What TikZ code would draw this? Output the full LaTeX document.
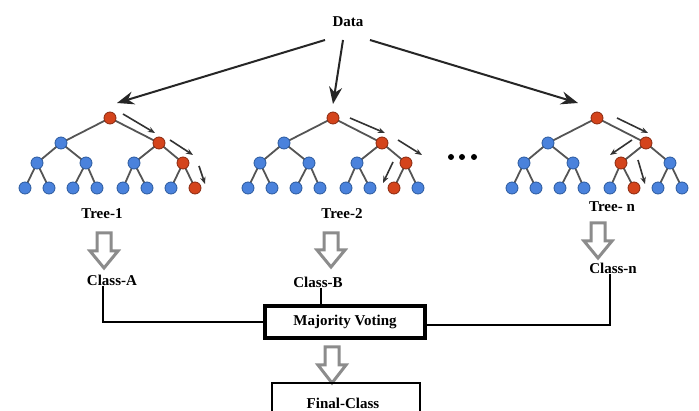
\documentclass[tikz,border=0pt]{standalone}
\usepackage{fontspec}
\setmainfont{Liberation Serif}
\usetikzlibrary{arrows.meta,calc}
\pgfdeclarelayer{bg}
\pgfdeclarelayer{paper}
\pgfsetlayers{paper,bg,main}
\definecolor{nblue}{HTML}{4A82DC}
\definecolor{nbluedk}{HTML}{2C5A9E}
\definecolor{nred}{HTML}{D4441C}
\definecolor{nreddk}{HTML}{8A2A10}
\definecolor{edgec}{HTML}{555555}
\definecolor{hollow}{HTML}{8C8C8C}
\tikzset{
  bn/.style={circle,fill=nblue,draw=nbluedk,line width=0.8pt,minimum size=12pt,inner sep=0pt},
  rn/.style={circle,fill=nred,draw=nreddk,line width=0.8pt,minimum size=12pt,inner sep=0pt},
  tedge/.style={draw=edgec,line width=1.8pt},
  smallarr/.style={draw=black!80,line width=1.6pt,-{Stealth[length=7pt,width=5.5pt]}},
  bigarr/.style={draw=black!85,line width=2pt,-{Stealth[length=17pt,width=13pt]}},
  lbl/.style={font=\fontsize{15}{17}\selectfont\bfseries,inner sep=1pt},
  conn/.style={draw=black,line width=2pt},
}
% #1 prefix, #2 root x, #3 red L1, #4 red L2, #5 red leaf
\newcommand{\mytree}[5]{%
  \node[rn] (#1-0) at (#2,118) {};
  \foreach \i/\dx in {1/-49,2/49}{%
    \ifnum\i=#3\relax\def\st{rn}\else\def\st{bn}\fi
    \node[\st] (#1-1-\i) at (#2+\dx,143) {};
    \begin{pgfonlayer}{bg}\draw[tedge] (#1-0.center) -- (#1-1-\i.center);\end{pgfonlayer}
  }
  \foreach \j/\dx in {1/-73,2/-24,3/24,4/73}{%
    \ifnum\j=#4\relax\def\st{rn}\else\def\st{bn}\fi
    \pgfmathtruncatemacro{\p}{(\j+1)/2}
    \node[\st] (#1-2-\j) at (#2+\dx,163) {};
    \begin{pgfonlayer}{bg}\draw[tedge] (#1-1-\p.center) -- (#1-2-\j.center);\end{pgfonlayer}
  }
  \foreach \k/\dx in {1/-85,2/-61,3/-37,4/-13,5/13,6/37,7/61,8/85}{%
    \ifnum\k=#5\relax\def\st{rn}\else\def\st{bn}\fi
    \pgfmathtruncatemacro{\q}{(\k+1)/2}
    \node[\st] (#1-3-\k) at (#2+\dx,188) {};
    \begin{pgfonlayer}{bg}\draw[tedge] (#1-2-\q.center) -- (#1-3-\k.center);\end{pgfonlayer}
  }
}
% hollow arrow: #1 x, #2 top y, #3 head start y, #4 tip y
\newcommand{\hollowarrow}[4]{%
  \draw[hollow,line width=3pt,fill=white,line join=miter]
    (#1-7,#2) -- (#1+7,#2) -- (#1+7,#3) -- (#1+14,#3) -- (#1,#4) -- (#1-14,#3) -- (#1-7,#3) -- cycle;
}
\begin{document}
\begin{tikzpicture}[x=1pt,y=-1pt]
\useasboundingbox (0,0) rectangle (699,411);
\begin{pgfonlayer}{paper}\fill[white] (0,0) rectangle (699,411);\end{pgfonlayer}

% Data
\node[lbl] (data) at (348,22) {Data};
\coordinate (d1) at (325,40); \coordinate (e1) at (117,103);
\coordinate (d2) at (343,40); \coordinate (e2) at (333,104);
\coordinate (d3) at (370,40); \coordinate (e3) at (578,103);
\draw[bigarr] (d1) -- (e1);
\draw[bigarr] (d2) -- (e2);
\draw[bigarr] (d3) -- (e3);

% Trees
\mytree{ta}{110}{2}{4}{8}
\mytree{tb}{333}{2}{4}{7}
\mytree{tn}{597}{2}{3}{6}

% small path arrows
\coordinate (a1s) at (123,114); \coordinate (a1e) at (155,133);
\coordinate (a2s) at (170,140); \coordinate (a2e) at (193,155);
\coordinate (a3s) at (199,166); \coordinate (a3e) at (205,184);
\coordinate (b1s) at (350,118); \coordinate (b1e) at (385,133);
\coordinate (b2s) at (398,140); \coordinate (b2e) at (422,155);
\coordinate (b3s) at (393,162); \coordinate (b3e) at (383,183);
\coordinate (n1s) at (617,118); \coordinate (n1e) at (648,133);
\coordinate (n2s) at (632,140); \coordinate (n2e) at (610,155);
\coordinate (n3s) at (638,160); \coordinate (n3e) at (645,184);
\foreach \s/\e in {a1s/a1e,a2s/a2e,a3s/a3e,b1s/b1e,b2s/b2e,b3s/b3e,n1s/n1e,n2s/n2e,n3s/n3e}
  \draw[smallarr] (\s) -- (\e);

% dots
\foreach \x [count=\c] in {451,462,474}
  \node[circle,fill=black,inner sep=0pt,minimum size=6pt] (dot\c) at (\x,157) {};

% Tree labels
\node[lbl] (tl1) at (102,214) {Tree-1};
\node[lbl] (tl2) at (342,214) {Tree-2};
\node[lbl] (tln) at (612,207) {Tree- n};

% hollow arrows
\hollowarrow{104}{233}{251}{268}
\hollowarrow{331}{233}{250}{267}
\hollowarrow{598}{223}{241}{258}
\hollowarrow{332}{347}{365}{383}

% Class labels
\node[lbl] (ca) at (112,280) {Class-A};
\node[lbl] (cb) at (318,282) {Class-B};
\node[lbl] (cn) at (613,268) {Class-n};

% Majority voting
\node[lbl,draw=black,line width=3.5pt,minimum width=160pt,minimum height=32pt,inner sep=0pt] (mv) at (345,322) {Majority Voting};
% Final class (bottom cut off)
\node[draw=black,line width=2pt,minimum width=148pt,minimum height=50pt,inner sep=0pt] (fc) at (346,408) {};
\node[lbl] (fct) at (343,403) {Final-Class};

% connectors
\draw[conn] ([xshift=-9pt]ca.south) |- (mv.west);
\draw[conn] ([xshift=3pt]cb.south) -- ([xshift=3pt]cb.south |- mv.north);
\draw[conn] ([xshift=-3pt]cn.south) |- ([yshift=-3pt]mv.east);
\end{tikzpicture}
\end{document}
